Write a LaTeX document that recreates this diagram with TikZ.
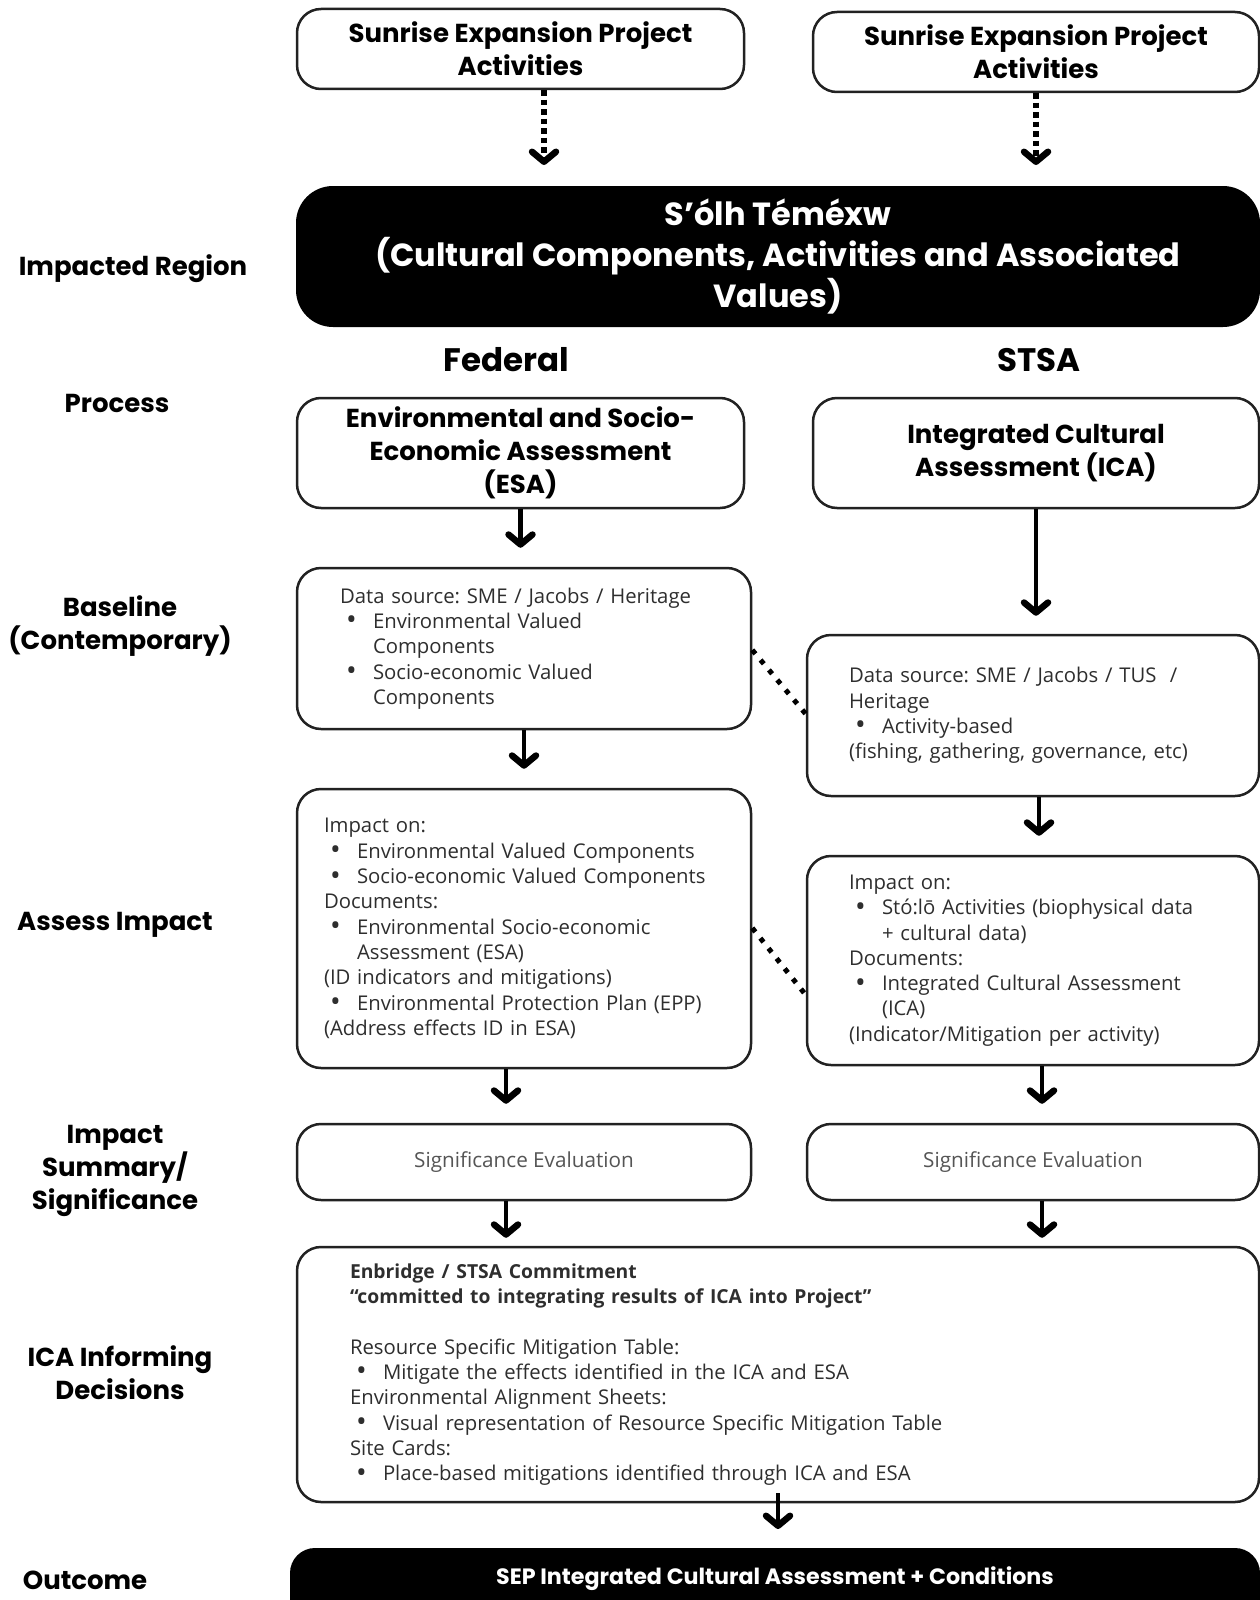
\documentclass[tikz,border=0pt]{standalone}
\usepackage{fontspec}
\usepackage{graphicx}
\setmainfont{Open Sans}
\newfontfamily\pop{Poppins}
\usetikzlibrary{arrows.meta}
\definecolor{ink}{HTML}{222222}
\definecolor{bodyink}{HTML}{2e2e2e}
\definecolor{softink}{HTML}{555555}
\frenchspacing
% bullet line and its continuation
\newcommand\bdot{\raisebox{-1.5pt}{\scalebox{1.4}{\textbullet}}}
\newcommand\bul[1]{\makebox[33pt][l]{\hspace{6pt}\bdot}#1}
\newcommand\cnt[1]{\hspace{33pt}#1}
\newcommand\boldline[1]{{\fontsize{19.3}{25.3}\selectfont\bfseries #1}}

\begin{document}
\begin{tikzpicture}[x=1pt,y=-1pt,
  box/.style={draw=ink, line width=2.5pt, rounded corners=24pt, fill=white,
    align=center, inner sep=0pt},
  headtxt/.style={font=\pop\bfseries\fontsize{26}{33}\selectfont},
  bodytxt/.style={font=\fontsize{20.3}{25.3}\selectfont, text=bodyink, align=left},
  blackbox/.style={fill=black, draw=black, line width=2pt, text=white, align=center, inner sep=0pt},
  tip/.style={-{Straight Barb[length=10pt,width=24pt,line width=6.5pt,round]}},
  arr/.style={line width=4.5pt, tip},
  dotarr/.style={line width=5.5pt, dash pattern=on 5.5pt off 4pt, tip},
  link/.style={line width=5pt, dash pattern=on 5pt off 8pt},
  side/.style={font=\pop\bfseries\fontsize{26}{33}\selectfont, align=center},
  col/.style={font=\pop\bfseries\fontsize{32.5}{36}\selectfont}
]
\useasboundingbox (0,0) rectangle (1260,1600);
\clip (0,0) rectangle (1260,1600);
\fill[white] (0,0) rectangle (1260,1600);

% row labels
\node[side] (lRegion) at (133,269) {Impacted Region};
\node[side] (lProcess) at (117,403) {Process};
\node[side] (lBase) at (120,626) {Baseline\\(Contemporary)};
\node[side] (lAssess) at (115,925) {Assess Impact};
\node[side] (lSum) at (115,1171) {Impact\\Summary/\\Significance};
\node[side] (lInform) at (120,1373) {ICA Informing\\Decisions};
\node[side] (lOut) at (85,1580) {Outcome};

% project activities
\node[box, headtxt, minimum width=447, minimum height=80] (actL) at (520.5,49)
  {Sunrise Expansion Project\\Activities};
\node[box, headtxt, minimum width=446, minimum height=80] (actR) at (1036,52)
  {Sunrise Expansion Project\\Activities};

% impacted region
\node[blackbox, rounded corners=36pt, minimum width=962, minimum height=139,
  font=\pop\bfseries\fontsize{32}{41}\selectfont] (region) at (778,256.5)
  {S’ólh Téméxw\\(Cultural Components, Activities and Associated\\Values)};

% column titles
\node[col] (fed) at (506,360) {Federal};
\node[col] (stsa) at (1039,360) {STSA};

% processes
\node[box, headtxt, minimum width=447, minimum height=110] (esa) at (520.5,453)
  {Environmental and Socio-\\Economic Assessment\\(ESA)};
\node[box, headtxt, minimum width=446, minimum height=110] (ica) at (1036,453)
  {Integrated Cultural\\Assessment (ICA)};

% baselines
\node[box, bodytxt, minimum width=454, minimum height=161, text width=368] (baseL) at (524,648.5)
  {Data source: SME / Jacobs / Heritage\\
   \bul{Environmental Valued}\\
   \cnt{Components}\\
   \bul{Socio-economic Valued}\\
   \cnt{Components}};
\node[box, bodytxt, minimum width=452, minimum height=161, text width=368] (baseR) at (1033,715.5)
  {Data source: SME / Jacobs / TUS \ /\\
   Heritage\\
   \bul{Activity-based}\\
   (fishing, gathering, governance, etc)};

% impact assessment
\node[box, bodytxt, minimum width=454, minimum height=279, text width=400] (impL) at (524,928.5)
  {Impact on:\\
   \bul{Environmental Valued Components}\\
   \bul{Socio-economic Valued Components}\\
   Documents:\\
   \bul{Environmental Socio-economic}\\
   \cnt{Assessment (ESA)}\\
   (ID indicators and mitigations)\\
   \bul{Environmental Protection Plan (EPP)}\\
   (Address effects ID in ESA)};
\node[box, bodytxt, minimum width=452, minimum height=209, text width=368] (impR) at (1033,960.5)
  {Impact on:\\
   \bul{Stó:lō Activities (biophysical data}\\
   \cnt{+ cultural data)}\\
   Documents:\\
   \bul{Integrated Cultural Assessment}\\
   \cnt{(ICA)}\\
   (Indicator/Mitigation per activity)};

% significance
\node[box, font=\fontsize{20.7}{24}\selectfont, text=softink, minimum width=454, minimum height=76] (sigL) at (524,1162)
  {Significance Evaluation};
\node[box, font=\fontsize{20.7}{24}\selectfont, text=softink, minimum width=452, minimum height=76] (sigR) at (1033,1162)
  {Significance Evaluation};

% decisions
\node[box, bodytxt, minimum width=962, minimum height=255, text width=856] (decide) at (778,1374.5)
  {\boldline{Enbridge / STSA Commitment}\\
   \boldline{“committed to integrating results of ICA into Project”}\\[25.3pt]
   Resource Specific Mitigation Table:\\
   \bul{Mitigate the effects identified in the ICA and ESA}\\
   Environmental Alignment Sheets:\\
   \bul{Visual representation of Resource Specific Mitigation Table}\\
   Site Cards:\\
   \bul{Place-based mitigations identified through ICA and ESA}};

% outcome: rounded on top, running off the lower edge
\node[blackbox, rounded corners=24pt, minimum width=968, minimum height=56] (outcome) at (775,1577) {};
\fill[black] (outcome.west) rectangle ([yshift=-40pt]outcome.east);
\node[text=white, font=\pop\bfseries\fontsize{22.2}{24}\selectfont] (outcomeText) at ([yshift=-2pt]outcome.center)
  {SEP Integrated Cultural Assessment + Conditions};

% connectors
\draw[dotarr, shorten >=21pt] ([xshift=23.5pt]actL.south) -- ([xshift=23.5pt]actL.south |- region.north);
\draw[dotarr, shorten >=21pt] (actR.south) -- (actR.south |- region.north);
\draw[arr, shorten >=19pt] (esa.south) -- (esa.south |- baseL.north);
\draw[arr, shorten >=18pt] (ica.south) -- (ica.south |- baseR.north);
\draw[arr, shorten >=19pt] (baseL.south) -- (impL.north);
\draw[arr, shorten >=19pt] ([xshift=6pt]baseR.south) -- ([xshift=6pt]impR.north);
\draw[arr, shorten >=19pt] ([xshift=-18pt]impL.south) -- ([xshift=-18pt]sigL.north);
\draw[arr, shorten >=19pt] ([xshift=9pt]impR.south) -- ([xshift=9pt]sigR.north);
\draw[arr, shorten >=8pt] ([xshift=-18pt]sigL.south) -- ([xshift=-18pt]sigL.south |- decide.north);
\draw[arr, shorten >=8pt] ([xshift=9pt]sigR.south) -- ([xshift=9pt]sigR.south |- decide.north);
\draw[arr, shorten <=-10pt, shorten >=19pt] (decide.south) -- (decide.south |- outcome.north);

% links between the two columns
\draw[link] ([yshift=-1.5pt]baseL.east) -- ([yshift=1.5pt]baseR.west);
\draw[link] ([yshift=0.5pt]impL.east) -- ([yshift=-34.5pt]impR.west);
\end{tikzpicture}
\end{document}
